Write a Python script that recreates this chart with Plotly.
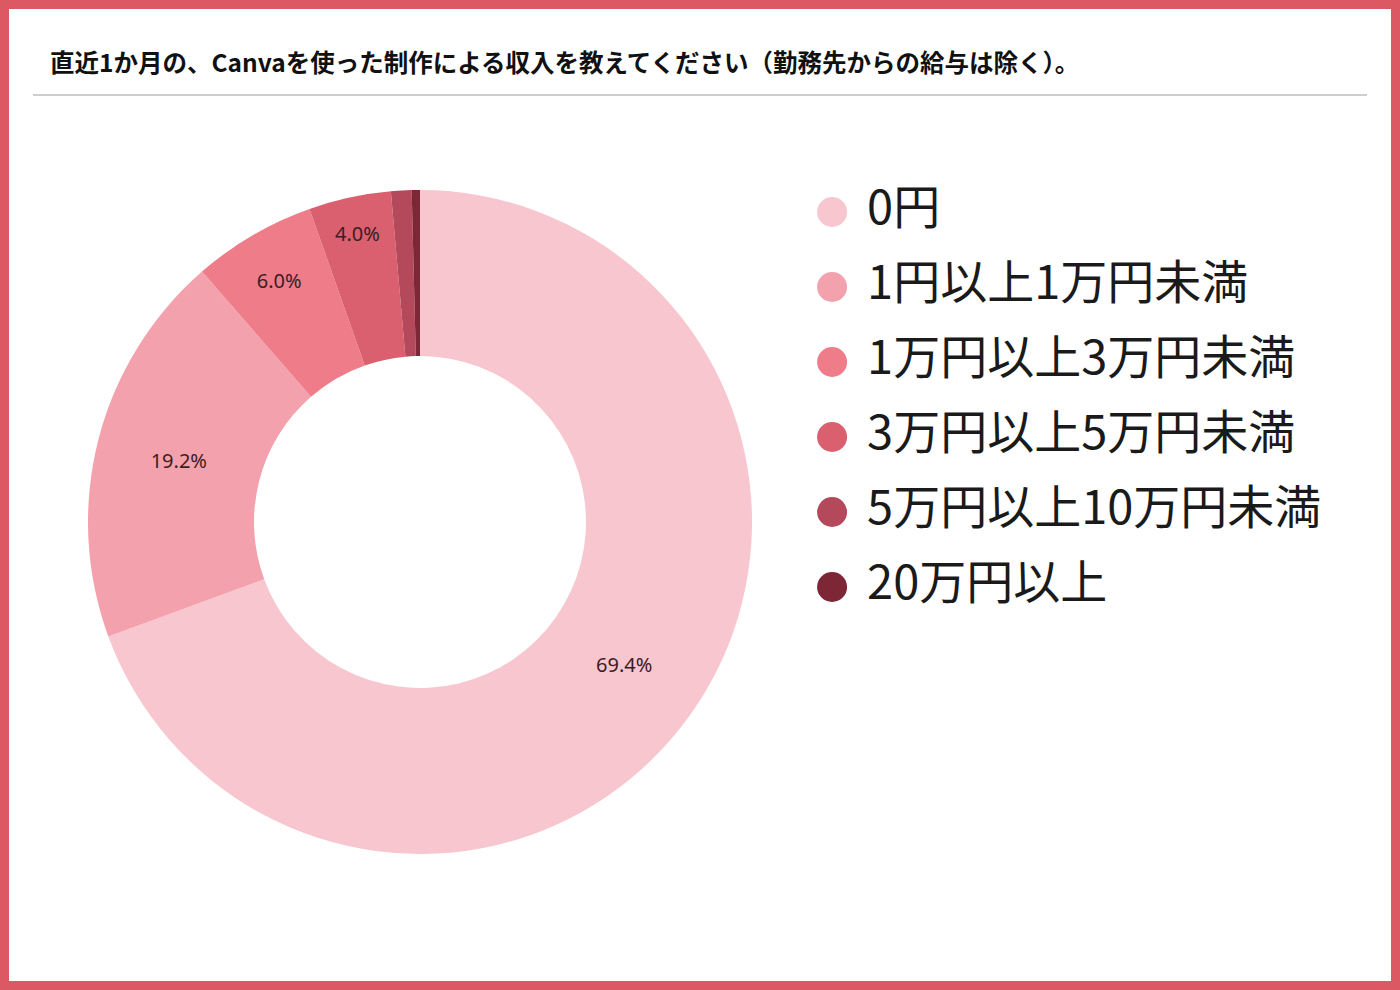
from plotly import graph_objs as go

# survey answers, in slice order (clockwise from 12 o'clock)
categories = ["0円", "1円以上1万円未満", "1万円以上3万円未満",
              "3万円以上5万円未満", "5万円以上10万円未満", "20万円以上"]
shares = [69.4, 19.2, 6.0, 4.0, 1.0, 0.4]
slice_labels = ["69.4%", "19.2%", "6.0%", "4.0%", "", ""]
colors = ["#F8C6CE", "#F3A1AC", "#EF7C89", "#DA6070", "#B4495B", "#7C2636"]

title_text = "直近1か月の、Canvaを使った制作による収入を教えてください（勤務先からの給与は除く）。"

W, H = 1400, 990
frame_color = "#DC5963"


def px_x(v):
    return v / W


def px_y(v):
    return 1 - v / H


fig = go.Figure()

# donut: centre (420, 522), outer radius 332 px
fig.add_trace(
    go.Pie(
        labels=categories,
        values=shares,
        text=slice_labels,
        textinfo="text",
        textposition="inside",
        insidetextorientation="horizontal",
        textfont=dict(family="Noto Sans", size=20, color="#3A1E24"),
        hole=0.5,
        sort=False,
        direction="clockwise",
        rotation=0,
        marker=dict(colors=colors, line=dict(width=0)),
        domain=dict(x=[px_x(420 - 332), px_x(420 + 332)],
                    y=[px_y(522 + 332), px_y(522 - 332)]),
        showlegend=False,
        hoverinfo="label+percent",
    )
)

# legend drawn as a dot column plus a text column on a hidden axis
rows = list(range(len(categories)))
fig.add_trace(
    go.Scatter(
        x=[0.035] * len(categories),
        y=rows,
        mode="markers",
        marker=dict(size=30, color=colors, symbol="circle", line=dict(width=0)),
        hoverinfo="skip",
        showlegend=False,
    )
)
fig.add_trace(
    go.Scatter(
        x=[0.096] * len(categories),
        y=rows,
        mode="text",
        text=categories,
        textposition="middle right",
        textfont=dict(family="Noto Sans CJK JP", size=47, color="#1A1A1A"),
        hoverinfo="skip",
        showlegend=False,
    )
)

fig.update_xaxes(range=[0, 1], domain=[px_x(812), px_x(1386)], visible=False,
                 fixedrange=True)
fig.update_yaxes(range=[5.5, -0.5], domain=[px_y(624.5), px_y(174.5)],
                 visible=False, fixedrange=True)

fig.add_annotation(
    text="<b>" + title_text + "</b>",
    xref="paper", yref="paper",
    x=px_x(48), y=px_y(62),
    xanchor="left", yanchor="middle",
    showarrow=False,
    font=dict(family="Noto Sans CJK JP", size=24.5, color="#111111"),
)

fig.update_layout(
    width=W, height=H,
    margin=dict(l=0, r=0, t=0, b=0),
    paper_bgcolor="white",
    plot_bgcolor="rgba(0,0,0,0)",
    shapes=[
        # grey rule under the title
        dict(type="line", xref="paper", yref="paper",
             x0=px_x(33), x1=px_x(1367), y0=px_y(95), y1=px_y(95),
             line=dict(color="#BDBDBD", width=1.5)),
        # red frame round the card
        dict(type="rect", xref="paper", yref="paper",
             x0=0, x1=1, y0=0, y1=1,
             line=dict(color=frame_color, width=18)),
    ],
)

# drop the page's default body margin so the card fills the window
fig.write_html("out.html",
               config={"displayModeBar": False},
               post_script="document.body.style.margin='0';"
                           "document.body.style.overflow='hidden';")
